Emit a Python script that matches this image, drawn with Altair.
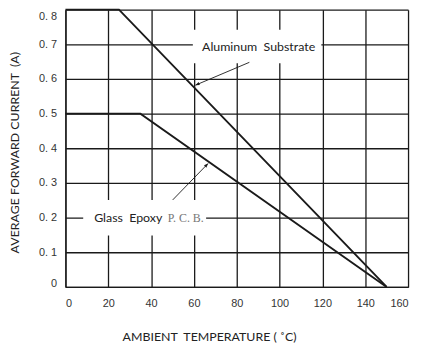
import altair as alt
import pandas as pd

# ---- data ----
temp_alu = [0, 25, 150]
curr_alu = [0.8, 0.8, 0.0]
temp_glass = [0, 35, 150]
curr_glass = [0.5, 0.5, 0.0]

x_ticks = [0, 20, 40, 60, 80, 100, 120, 140, 160]
y_ticks = [0, 0.1, 0.2, 0.3, 0.4, 0.5, 0.6, 0.7, 0.8]

# annotation boxes (data units)
box_t = [59.5, 8.3]
box_t2 = [119.5, 65.7]
box_i = [0.645, 0.148]
box_i2 = [0.742, 0.251]

# annotation texts
label_text = ["Aluminum\u00a0 Substrate", "Glass\u00a0 Epoxy"]
label_t = [63.8, 13.4]
label_i = [0.693, 0.2]
pcb_text = ["P. C. B."]
pcb_t = [47.8]
pcb_i = [0.2]

# arrows: start -> tip
arrow_t = [85.9, 50.1]
arrow_i = [0.648, 0.251]
arrow_t2 = [60.7, 66.6]
arrow_i2 = [0.582, 0.356]
arrow_angle = [247, 44]

# ---- tables ----
curves = pd.concat([
    pd.DataFrame({"t": temp_alu, "i": curr_alu, "s": "alu"}),
    pd.DataFrame({"t": temp_glass, "i": curr_glass, "s": "glass"}),
])
boxes = pd.DataFrame({"t": box_t, "t2": box_t2, "i": box_i, "i2": box_i2})
labels = pd.DataFrame({"t": label_t, "i": label_i, "txt": label_text})
pcb = pd.DataFrame({"t": pcb_t, "i": pcb_i, "txt": pcb_text})
arrows = pd.DataFrame({"t": arrow_t, "i": arrow_i, "t2": arrow_t2,
                       "i2": arrow_i2, "a": arrow_angle})

INK = "#1a1a1a"
xscale = alt.Scale(domain=[0, 160], nice=False, zero=False)
yscale = alt.Scale(domain=[0, 0.8], nice=False, zero=False)

xaxis = alt.Axis(
    values=x_ticks, tickCount=20, grid=True, ticks=False, labelPadding=11,
    title="AMBIENT\u00a0 TEMPERATURE ( \u02daC)",
    titleX=145, titleY=50, titleBaseline="middle", titleAlign="center",
)
yaxis = alt.Axis(
    values=y_ticks, tickCount=20, grid=True, ticks=False, labelPadding=9,
    labelExpr="datum.value == 0 ? '0' : replace(format(datum.value, '.1f'), '.', '.\u00a0')",
    labelOffset={"condition": [{"test": "datum.value >= 0.79", "value": 7},
                               {"test": "datum.value <= 0.01", "value": -3}],
                 "value": 0},
    title="AVERAGE FORWARD CURRENT\u00a0 (A)",
    titleX=-51, titleY=144, titleBaseline="middle", titleAlign="center",
)

base_x = alt.X("t:Q", scale=xscale, axis=xaxis)
base_y = alt.Y("i:Q", scale=yscale, axis=yaxis)

rects = alt.Chart(boxes).mark_rect(color="white", opacity=1).encode(
    x=base_x, x2="t2:Q", y=base_y, y2="i2:Q"
)
lines = alt.Chart(curves).mark_line(color=INK, strokeWidth=1.9).encode(
    x="t:Q", y="i:Q", detail="s:N"
)
txt = alt.Chart(labels).mark_text(
    align="left", baseline="middle", font="Lato", fontSize=12.5, color="#222"
).encode(x="t:Q", y="i:Q", text="txt:N")
txt_pcb = alt.Chart(pcb).mark_text(
    align="left", baseline="middle", font="Liberation Serif", fontSize=12, color="#777"
).encode(x="t:Q", y="i:Q", text="txt:N")
arrow_lines = alt.Chart(arrows).mark_rule(color=INK, strokeWidth=0.9).encode(
    x="t:Q", y="i:Q", x2="t2:Q", y2="i2:Q"
)
arrow_heads = alt.Chart(arrows).mark_point(
    shape="M0,0L-0.4,1L0.4,1Z", filled=True, color=INK, size=70, opacity=1
).encode(x="t2:Q", y="i2:Q", angle=alt.Angle("a:Q", scale=None))

chart = alt.layer(rects, lines, txt, txt_pcb, arrow_lines, arrow_heads).properties(
    width=346, height=280,
    autosize=alt.AutoSizeParams(type="none"),
    padding={"left": 58, "top": 0, "right": 5, "bottom": 55},
).configure_axis(
    gridColor=INK, gridWidth=1.3, gridOpacity=1,
    domainColor=INK, domainWidth=1.3,
    labelFont="Liberation Sans", labelFontSize=11, labelColor="#333",
    titleFont="Lato", titleFontSize=12.5, titleFontWeight="normal", titleColor="#222",
).configure_view(stroke=None)

chart.save("out.html", embed_options={"renderer": "svg", "actions": False})
